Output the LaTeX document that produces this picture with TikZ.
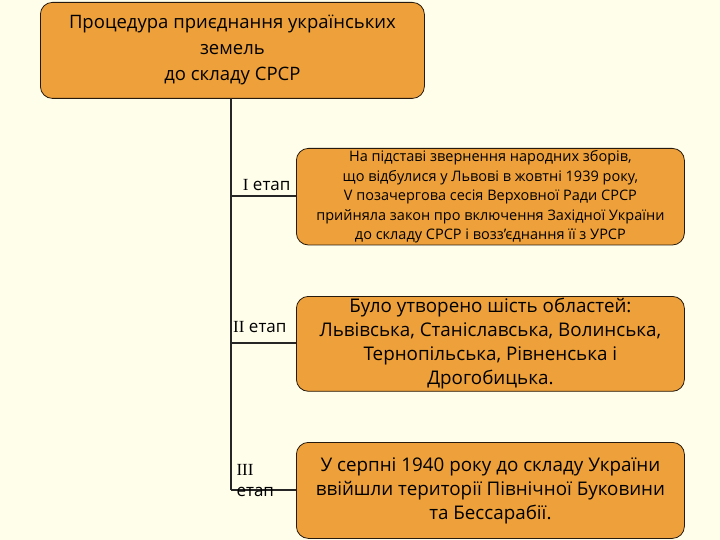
\documentclass[tikz,border=0pt]{standalone}
\usepackage{fontspec}
\setmainfont{Open Sans}
\newfontfamily\rmn{Liberation Serif}
\begin{document}
\begin{tikzpicture}[x=1pt,y=-1pt,
 boxst/.style={draw=black!80!brown,line width=0.8pt,fill={rgb,255:red,238;green,161;blue,58},rounded corners=12pt,align=center,inner sep=2pt},
 lbl/.style={font=\fontsize{17}{21}\selectfont,align=center}]
\fill[yellow!8!white] (0,0) rectangle (720,540);
\useasboundingbox (0,0) rectangle (720,540);
\node[boxst,minimum width=384pt,minimum height=96pt,font=\fontsize{18.5}{26}\selectfont,anchor=north west] (t) at (40,2) {Процедура приєднання українських\\земель\\до складу СРСР};
\node[boxst,minimum width=388pt,minimum height=96pt,font=\fontsize{14.5}{19.5}\selectfont,anchor=north west] (b1) at (296,148) {На підставі звернення народних зборів,\\що відбулися у Львові в жовтні 1939 року,\\V позачергова сесія Верховної Ради СРСР\\прийняла закон про включення Західної України\\до складу СРСР і возз’єднання її з УРСР};
\node[boxst,minimum width=388pt,minimum height=94pt,font=\fontsize{18.8}{24}\selectfont,anchor=north west] (b2) at (296,296) {Було утворено шість областей:\\Львівська, Станіславська, Волинська,\\Тернопільська, Рівненська і\\Дрогобицька.};
\node[boxst,minimum width=388pt,minimum height=96pt,font=\fontsize{18.8}{24}\selectfont,anchor=north west] (b3) at (296,442) {У серпні 1940 року до складу України\\ввійшли території Північної Буковини\\та Бессарабії.};
\coordinate (top) at (231,98);
\coordinate (c1) at (231,196);
\coordinate (c2) at (231,343);
\coordinate (c3) at (231,490);
\draw[line width=1.2pt,black!85] (top) -- (c3);
\draw[line width=1.2pt,black!85] (c1) -- (b1.west|-c1);
\draw[line width=1.2pt,black!85] (c2) -- (b2.west|-c2);
\draw[line width=1.2pt,black!85] (c3) -- (b3.west|-c3);
\node[lbl,anchor=east] (l1) at (294,185) {{\rmn I} етап};
\node[lbl,anchor=east] (l2) at (290,327) {{\rmn II} етап};
\node[lbl,align=left,anchor=west] (l3) at (233,481) {{\rmn III}\\етап};
\end{tikzpicture}
\end{document}
